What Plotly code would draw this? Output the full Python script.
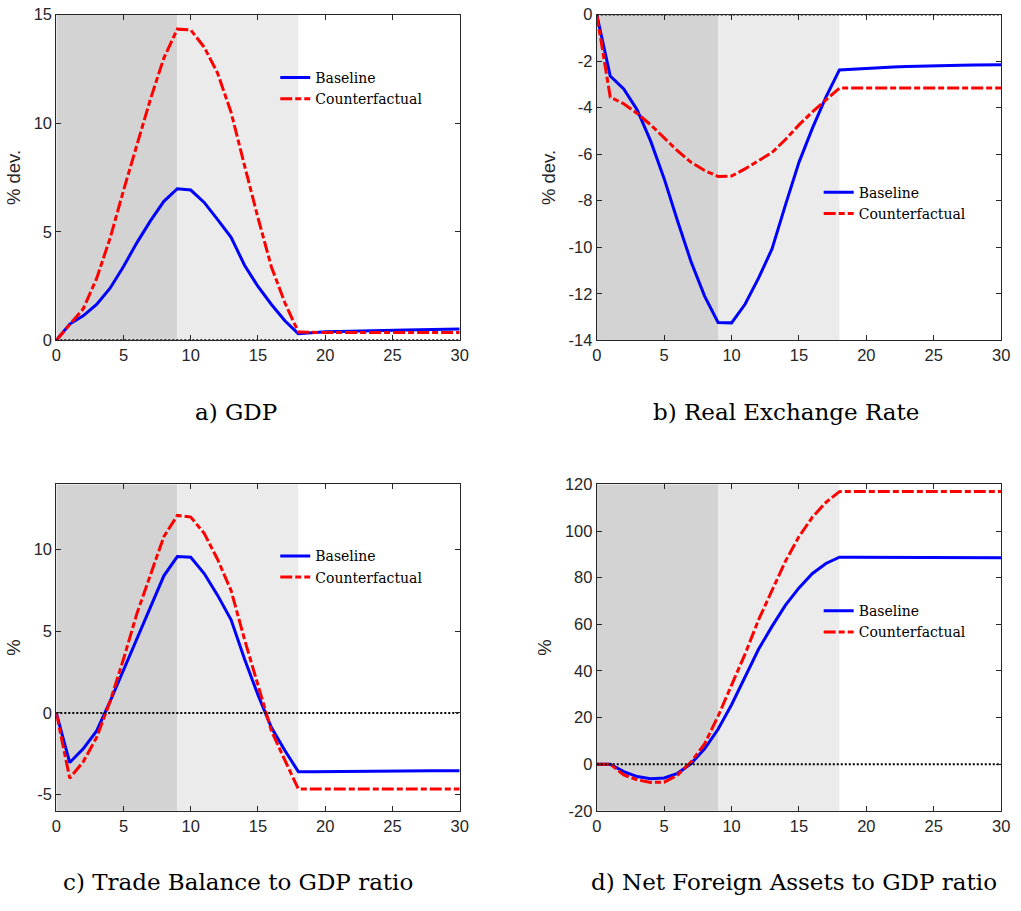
import plotly.graph_objects as go

W, H = 1021, 911

t = list(range(31))

gdp_base = [0, 0.75, 1.13, 1.65, 2.4, 3.4, 4.5, 5.5, 6.4, 6.98, 6.92, 6.35, 5.56, 4.74, 3.46, 2.48, 1.65, 0.9, 0.3,
            0.36, 0.39, 0.41, 0.43, 0.45, 0.46, 0.47, 0.48, 0.49, 0.5, 0.51, 0.52]
gdp_cf = [0, 0.75, 1.45, 2.85, 4.7, 6.9, 9.0, 11.1, 13.0, 14.33, 14.29, 13.5, 12.3, 10.5, 8.05, 5.64, 3.38, 1.73, 0.38,
          0.36, 0.36, 0.36, 0.36, 0.36, 0.36, 0.36, 0.36, 0.36, 0.36, 0.36, 0.36]

rer_base = [0, -2.64, -3.2, -4.1, -5.44, -7.05, -8.88, -10.63, -12.1, -13.23, -13.25, -12.45, -11.33, -10.07, -8.18,
            -6.35, -4.88, -3.55, -2.38, -2.34, -2.3, -2.27, -2.25, -2.23, -2.21, -2.2, -2.19, -2.18, -2.17, -2.17, -2.16]
rer_cf = [0, -3.55, -3.83, -4.25, -4.74, -5.3, -5.86, -6.35, -6.7, -6.96, -6.94, -6.63, -6.28, -5.93, -5.37, -4.74,
          -4.18, -3.69, -3.16, -3.15, -3.15, -3.15, -3.15, -3.15, -3.15, -3.15, -3.15, -3.15, -3.15, -3.15, -3.15]

tb_base = [0, -3.04, -2.2, -1.1, 0.7, 2.6, 4.6, 6.5, 8.4, 9.58, 9.54, 8.54, 7.2, 5.7, 3.3, 1.1, -0.9, -2.3, -3.6,
           -3.6, -3.59, -3.59, -3.58, -3.58, -3.57, -3.57, -3.56, -3.56, -3.55, -3.55, -3.55]
tb_cf = [0, -4.0, -3.0, -1.5, 0.7, 3.3, 6.1, 8.5, 10.8, 12.1, 12.0, 11.0, 9.4, 7.5, 4.5, 1.7, -1.1, -2.9, -4.66,
         -4.66, -4.66, -4.66, -4.66, -4.66, -4.66, -4.66, -4.66, -4.66, -4.66, -4.66, -4.66]

nfa_base = [0, 0, -3.2, -5.3, -6.2, -5.9, -3.9, 0.3, 6.6, 15.0, 25.5, 37.4, 49.3, 59.1, 68.2, 75.6, 81.8, 86.1, 88.8,
            88.8, 88.8, 88.8, 88.7, 88.7, 88.7, 88.7, 88.7, 88.6, 88.6, 88.6, 88.6]
nfa_cf = [0, 0, -4.6, -6.7, -7.8, -7.7, -4.6, 1.0, 8.7, 20.6, 33.9, 47.2, 61.9, 74.5, 87.1, 97.6, 106.0, 112.3, 116.9,
          117.0, 117.0, 117.0, 117.0, 117.0, 117.0, 117.0, 117.0, 117.0, 117.0, 117.0, 117.0]

captions = ["a) GDP", "b) Real Exchange Rate", "c) Trade Balance to GDP ratio", "d) Net Foreign Assets to GDP ratio"]
ytitles = ["% dev.", "% dev.", "%", "%"]
yranges = [[0, 15], [-14, 0], [-6, 14], [-20, 120]]
ytickvals = [[0, 5, 10, 15], [-14, -12, -10, -8, -6, -4, -2, 0], [-5, 0, 5, 10], [-20, 0, 20, 40, 60, 80, 100, 120]]
xtickvals = [0, 5, 10, 15, 20, 25, 30]
series = [(gdp_base, gdp_cf), (rer_base, rer_cf), (tb_base, tb_cf), (nfa_base, nfa_cf)]
shade_dark = [0, 9]
shade_light = [9, 18]

# pixel layout
xdom_px = [(52, 461), (600, 1010), (52, 461), (600, 1010)]
ydom_px = [(5.7, 338), (5.7, 338), (485, 818), (485, 818)]
legend_px = [(274, 54), (825, 171), (274, 542), (825, 598)]
caption_px = [(234, 411), (792, 411), (236, 891), (800, 891)]

BLUE = "#0000ff"
RED = "#ff0000"
AX = "#262626"
SANS = "Liberation Sans, Arial"
SERIF = "DejaVu Serif, serif"

fig = go.Figure()
shapes = []
annotations = []

for i in range(4):
    s = "" if i == 0 else str(i + 1)
    xa, ya = "x" + s, "y" + s
    leg = "legend" + s
    base, cf = series[i]
    fig.add_trace(go.Scatter(x=t, y=base, mode="lines", name="Baseline", xaxis=xa, yaxis=ya,
                             line=dict(color=BLUE, width=3), legend=leg))
    fig.add_trace(go.Scatter(x=t, y=cf, mode="lines", name="Counterfactual", xaxis=xa, yaxis=ya,
                             line=dict(color=RED, width=3, dash="12px,3px,6px,3px"), legend=leg))
    fig.add_trace(go.Scatter(x=[0, 30], y=[0, 0], mode="lines", showlegend=False, xaxis=xa, yaxis=ya,
                             line=dict(color="black", width=2, dash="2px,2px"), hoverinfo="skip"))

    x0, x1 = xdom_px[i]
    y0, y1 = ydom_px[i]
    axis_common = dict(showline=True, linecolor=AX, linewidth=1, mirror="ticks", ticks="inside",
                       ticklen=5, tickcolor=AX, tickwidth=1, showgrid=False, zeroline=False,
                       tickfont=dict(family=SANS, size=16.5, color=AX))
    fig.update_layout(**{
        "xaxis" + s: dict(domain=[x0 / W, x1 / W], range=[0, 30], tickvals=xtickvals,
                          ticktext=[str(v) for v in xtickvals], anchor=ya, **axis_common),
        "yaxis" + s: dict(domain=[1 - y1 / H, 1 - y0 / H], range=yranges[i], tickvals=ytickvals[i],
                          ticktext=[str(v) for v in ytickvals[i]],
                          anchor=xa, title=dict(text=ytitles[i], standoff=8,
                                                font=dict(family=SANS, size=18.5, color=AX)),
                          **axis_common),
        leg: dict(x=legend_px[i][0] / W, y=1 - legend_px[i][1] / H, xanchor="left", yanchor="top",
                  bgcolor="rgba(0,0,0,0)", borderwidth=0, tracegroupgap=0,
                  font=dict(family=SERIF, size=14, color="black"),
                  itemwidth=30),
    })
    shapes.append(dict(type="rect", xref=xa, yref=ya + " domain", x0=shade_dark[0], x1=shade_dark[1], y0=0, y1=1,
                       fillcolor="#d3d3d3", line=dict(width=0), layer="below"))
    shapes.append(dict(type="rect", xref=xa, yref=ya + " domain", x0=shade_light[0], x1=shade_light[1], y0=0, y1=1,
                       fillcolor="#ebebeb", line=dict(width=0), layer="below"))
    annotations.append(dict(text=captions[i], xref="paper", yref="paper",
                            x=caption_px[i][0] / W, y=1 - caption_px[i][1] / H,
                            xanchor="center", yanchor="middle", showarrow=False,
                            font=dict(family=SERIF, size=23, color="black")))

fig.update_layout(width=W, height=H, margin=dict(l=0, r=0, t=0, b=0),
                  paper_bgcolor="white", plot_bgcolor="white",
                  shapes=shapes, annotations=annotations)

fig.write_html("out.html")
